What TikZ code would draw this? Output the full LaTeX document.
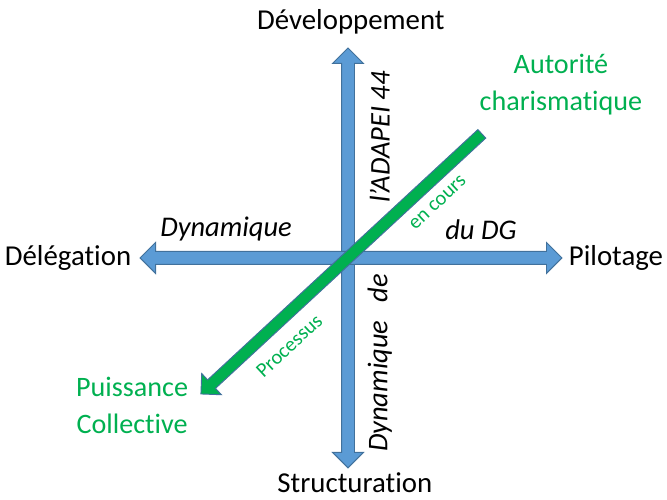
\documentclass[tikz,border=0pt]{standalone}
\usepackage{fontspec}
\setmainfont{Carlito}[Ligatures=NoCommon]
\usetikzlibrary{shapes.arrows}
\definecolor{axisblue}{HTML}{5B9BD5}
\definecolor{axisline}{HTML}{41719C}
\definecolor{procgreen}{HTML}{00B050}

\begin{document}
\begin{tikzpicture}[
% Arrow styles
 axis/.style={double arrow, draw=axisline, fill=axisblue, line width=0.8pt,
 inner xsep=0pt, inner ysep=0.18cm, minimum width=0pt,
 double arrow head extend=0.27cm},
 procarrow/.style={single arrow, draw=axisline, fill=procgreen, line width=0.8pt,
 inner xsep=0pt, inner ysep=0.16cm, minimum width=0pt,
 single arrow head extend=0.26cm},
% Label styles
 pole/.style={font=\fontsize{24.6}{30}\selectfont},
 dynlabel/.style={font=\fontsize{24.3}{30}\selectfont\itshape},
 greenpole/.style={text=procgreen, align=center, font=\fontsize{24}{31.5}\selectfont},
 phase/.style={text=procgreen, font=\fontsize{17.5}{20}\selectfont, rotate=42.8}
]
\useasboundingbox (0,0) rectangle (20,14.99);

\node[axis, rotate=90, minimum height=12.59cm] (axeV) at (10.435,7.256) {};
\node[axis, minimum height=12.65cm] (axeH) at (10.525,7.256) {};
\node[procarrow, rotate=222.8, minimum height=11.48cm] (proc) at (10.30,7.136) {};

\node[pole] (developpement) at (10.52,14.33) {Développement};
\node[pole] (structuration) at (10.64,0.51) {Structuration};
\node[pole] (delegation) at (2.04,7.26) {Délégation};
\node[pole] (pilotage) at (18.47,7.26) {Pilotage};

\node[dynlabel] (dynleft) at (6.78,8.13) {Dynamique};
\node[dynlabel] (dynright) at (14.42,8.10) {du DG};
\node[dynlabel, rotate=90] (adapei) at (11.39,10.88) {l’ADAPEI 44};
\node[dynlabel, rotate=90] (dynde) at (11.39,4.11) {Dynamique\hspace{0.55cm}de};

\node[phase] (encours) at (13.13,8.91) {en cours};
\node[phase] (processus) at (8.67,4.62) {Processus};

\node[greenpole] (autorite) at (16.82,12.44) {Autorité\\charismatique};
\node[greenpole] (puissance) at (3.96,2.82) {Puissance\\Collective};

\end{tikzpicture}
\end{document}
